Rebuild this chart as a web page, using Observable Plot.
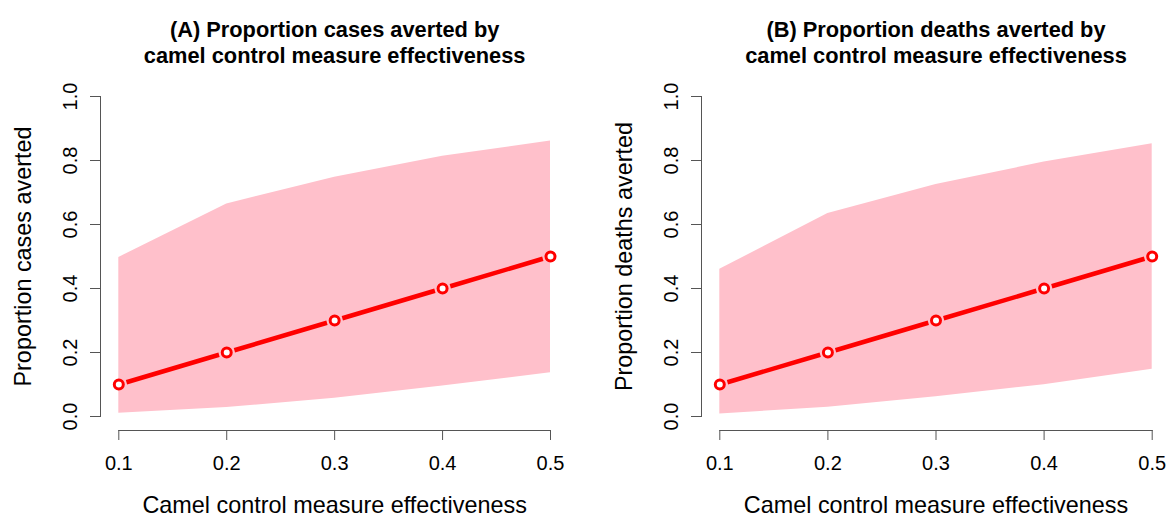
<!DOCTYPE html>
<html>
<head>
<meta charset="utf-8">
<script src="https://cdn.jsdelivr.net/npm/d3@7"></script>
<script src="https://cdn.jsdelivr.net/npm/@observablehq/plot@0.6"></script>
<style>
  html, body { margin: 0; padding: 0; background: #fff; }
  #wrap { display: flex; width: 1170px; height: 516px; overflow: hidden; }
  svg { display: block; font-family: "Liberation Sans", Arial, sans-serif; }
</style>
</head>
<body>
<div id="wrap"></div>
<script>
// ---- data ----
const effectiveness = [0.1, 0.2, 0.3, 0.4, 0.5];
const casesMedian = [0.1, 0.2, 0.3, 0.4, 0.5];
const casesLow = [0.010, 0.028, 0.057, 0.095, 0.137];
const casesHigh = [0.497, 0.664, 0.748, 0.813, 0.861];
const deathsMedian = [0.1, 0.2, 0.3, 0.4, 0.5];
const deathsLow = [0.008, 0.029, 0.062, 0.099, 0.148];
const deathsHigh = [0.460, 0.634, 0.725, 0.795, 0.852];
const xTicks = [0.1, 0.2, 0.3, 0.4, 0.5];
const yTicks = [0.0, 0.2, 0.4, 0.6, 0.8, 1.0];
const titleA = ["(A) Proportion cases averted by", "camel control measure effectiveness"];
const titleB = ["(B) Proportion deaths averted by", "camel control measure effectiveness"];
const xLabel = "Camel control measure effectiveness";
const yLabelA = "Proportion cases averted";
const yLabelB = "Proportion deaths averted";

function panel({title, yLabel, median, low, high, width, marginRight}) {
  const rows = effectiveness.map((x, i) => ({x, median: median[i], low: low[i], high: high[i]}));
  const segs = d3.pairs(rows).map(([a, b]) => ({x1: a.x, y1: a.median, x2: b.x, y2: b.median}));
  const axisColor = "#555";
  const inL = 18.3, inB = 14;
  const cx = inL / 2;   // shift to centre text over the data range
  return Plot.plot({
    width, height: 516,
    marginLeft: 100, marginRight, marginTop: 96, marginBottom: 86,
    insetLeft: inL, insetBottom: inB,
    x: {domain: [0.1, 0.5]},
    y: {domain: [0, 1]},
    style: {fontFamily: '"Liberation Sans", Arial, sans-serif', color: "#000", background: "#fff"},
    marks: [
      Plot.areaY(rows, {x: "x", y1: "low", y2: "high", fill: "#FFC0CB", curve: "linear"}),
      Plot.arrow(segs, {x1: "x1", y1: "y1", x2: "x2", y2: "y2", stroke: "#FF0000", strokeWidth: 4.5,
        headLength: 0, inset: 8, strokeLinecap: "butt"}),
      Plot.dot(rows, {x: "x", y: "median", r: 4.5, stroke: "#FF0000", strokeWidth: 3, fill: "#fff"}),
      // axis lines
      Plot.frame({anchor: "left", stroke: axisColor, insetBottom: inB}),
      Plot.frame({anchor: "bottom", stroke: axisColor, insetLeft: inL}),
      Plot.axisX({ticks: xTicks, tickFormat: d3.format(".1f"), tickSize: 10, tickPadding: 15,
        stroke: axisColor, fontSize: 20, fill: "#000", label: null}),
      Plot.axisY({ticks: yTicks, tickFormat: d3.format(".1f"), tickSize: 10, tickPadding: 14,
        tickRotate: -90, stroke: axisColor, fontSize: 20, fill: "#000", label: null}),
      // axis titles
      Plot.text([xLabel], {frameAnchor: "bottom", dx: cx, dy: 82, lineAnchor: "bottom",
        fontSize: 23.4, fill: "#000"}),
      Plot.text([yLabel], {frameAnchor: "left", dx: -70, dy: -inB / 2, rotate: -90,
        lineAnchor: "bottom", textAnchor: "middle", fontSize: 23.4, fill: "#000"}),
      // title
      Plot.text([title[0]], {frameAnchor: "top", dx: cx, dy: -60, lineAnchor: "bottom",
        fontSize: 21.8, fontWeight: "bold", fill: "#000"}),
      Plot.text([title[1]], {frameAnchor: "top", dx: cx, dy: -34, lineAnchor: "bottom",
        fontSize: 21.8, fontWeight: "bold", fill: "#000"})
    ]
  });
}

const wrap = document.getElementById("wrap");
wrap.append(panel({title: titleA, yLabel: yLabelA, median: casesMedian, low: casesLow, high: casesHigh,
  width: 601, marginRight: 51}));
wrap.append(panel({title: titleB, yLabel: yLabelB, median: deathsMedian, low: deathsLow, high: deathsHigh,
  width: 569, marginRight: 18.3}));
</script>
</body>
</html>
